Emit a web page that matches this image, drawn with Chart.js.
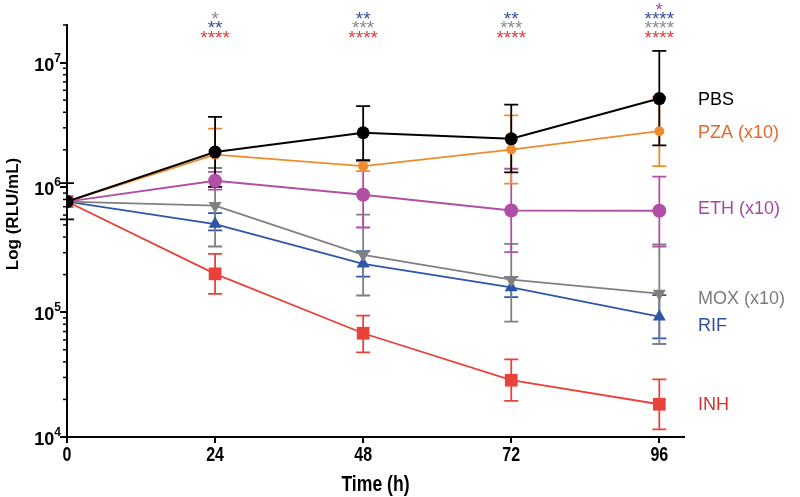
<!DOCTYPE html>
<html>
<head>
<meta charset="utf-8">
<script src="https://cdn.jsdelivr.net/npm/chart.js@4.4.1/dist/chart.umd.min.js"></script>
<style>
  html, body { margin: 0; padding: 0; background: #fff; }
  canvas { display: block; }
</style>
</head>
<body>
<canvas id="rluChart" width="800" height="497"></canvas>
<script>
// time points (h)
const times = [0, 24, 48, 72, 96];

// mean RLU/mL and error bar ends
const pbs   = [7.7e5, 1.92e6, 2.74e6, 2.45e6, 5.15e6];
const pbsHi = [1.08e6, 3.67e6, 4.48e6, 4.61e6, 1.24e7];
const pbsLo = [5.54e5, 1.01e6, 1.65e6, 1.32e6, 2.17e6];

const pza   = [7.7e5, 1.83e6, 1.48e6, 2.01e6, 2.82e6];
const pzaHi = [null, 2.96e6, 1.62e6, 3.77e6, 5.3e6];
const pzaLo = [null, 1.13e6, 1.35e6, 1.07e6, 1.48e6];

const eth   = [7.7e5, 1.13e6, 8.73e5, 6.53e5, 6.5e5];
const ethHi = [null, 1.33e6, 1.64e6, 1.41e6, 1.22e6];
const ethLo = [null, 9.6e5, 4.77e5, 3.03e5, 3.36e5];

const mox   = [7.7e5, 7.13e5, 2.88e5, 1.82e5, 1.41e5];
const moxHi = [null, 1.43e6, 6.04e5, 3.53e5, 3.5e5];
const moxLo = [null, 3.36e5, 1.36e5, 8.4e4, 5.56e4];

const rif   = [7.7e5, 5.08e5, 2.44e5, 1.58e5, 9.2e4];
const rifHi = [null, 6.22e5, 3.08e5, 1.92e5, 1.37e5];
const rifLo = [null, 4.52e5, 1.93e5, 1.32e5, 6.17e4];

const inh   = [7.7e5, 2.03e5, 6.78e4, 2.85e4, 1.83e4];
const inhHi = [null, 2.93e5, 9.37e4, 4.19e4, 2.9e4];
const inhLo = [null, 1.40e5, 4.76e4, 1.95e4, 1.15e4];

const seriesNames = ['PBS', 'PZA (x10)', 'ETH (x10)', 'MOX (x10)', 'RIF', 'INH'];

// y axis labelled decades
const yMajor = [1e4, 1e5, 1e6, 1e7];

// significance stars above each time point (top row first)
const starTimes = [24, 48, 72, 96];
const starRows = [
  [['*', 'gray'], ['**', 'blue'], ['****', 'red']],
  [['**', 'blue'], ['***', 'gray'], ['****', 'red']],
  [['**', 'blue'], ['***', 'gray'], ['****', 'red']],
  [['*', 'purple'], ['****', 'blue'], ['****', 'gray'], ['****', 'red']]
];

const starColors = { red: '#e0393a', blue: '#3b4f9c', gray: '#8a8a8a', purple: '#a64c9c' };

const styles = [
  { color: '#000000', text: '#000000', shape: 'circle', r: 6.5, dy: 1 },
  { color: '#ee8b2c', text: '#e4672e', shape: 'circle', r: 5, dy: 2 },
  { color: '#b14fa5', text: '#a8479b', shape: 'circle', r: 7, dy: -2 },
  { color: '#808080', text: '#7b7b7b', shape: 'triangle', rot: 180, r: 7.5, dy: 5 },
  { color: '#2d56a7', text: '#2f4f9c', shape: 'triangle', r: 7.5, dy: 9 },
  { color: '#e8423b', text: '#d8302e', shape: 'rect', r: 9, dy: 1 }
];

const means = [pbs, pza, eth, mox, rif, inh];
const highs = [pbsHi, pzaHi, ethHi, moxHi, rifHi, inhHi];
const lows  = [pbsLo, pzaLo, ethLo, moxLo, rifLo, inhLo];

const sans = "'Liberation Sans', Arial, sans-serif";

const datasets = means.map((vals, i) => ({
  label: seriesNames[i],
  data: vals.map((v, j) => ({ x: times[j], y: v })),
  borderColor: styles[i].color,
  backgroundColor: styles[i].color,
  borderWidth: i === 0 ? 2 : 1.8,
  pointStyle: styles[i].shape,
  pointRotation: styles[i].rot || 0,
  pointRadius: styles[i].r,
  pointBorderWidth: 0,
  tension: 0
}));

// condensed bold text, like the original's Helvetica Condensed
function narrowText(c, text, x, y, size) {
  c.save();
  c.translate(x, y);
  c.scale(0.8, 1);
  c.font = 'bold ' + size + 'px ' + sans;
  c.textAlign = 'center';
  c.textBaseline = 'middle';
  c.fillText(text, 0, 0);
  c.restore();
}

// error bars, minor ticks, axis labels, stars and series names
const extras = {
  id: 'extras',
  beforeDatasetsDraw(chart) {
    const c = chart.ctx;
    const xs = chart.scales.x, ys = chart.scales.y;
    for (let i = means.length - 1; i >= 0; i--) {
      c.save();
      c.strokeStyle = styles[i].color;
      c.lineWidth = 1.8;
      times.forEach((t, j) => {
        if (highs[i][j] == null) return;
        const x = xs.getPixelForValue(t);
        const yh = ys.getPixelForValue(highs[i][j]);
        const yl = ys.getPixelForValue(lows[i][j]);
        c.beginPath();
        c.moveTo(x, yh); c.lineTo(x, yl);
        c.moveTo(x - 7, yh); c.lineTo(x + 7, yh);
        c.moveTo(x - 7, yl); c.lineTo(x + 7, yl);
        c.stroke();
      });
      c.restore();
    }
  },
  afterDraw(chart) {
    const c = chart.ctx;
    const xs = chart.scales.x, ys = chart.scales.y;
    const area = chart.chartArea;
    c.save();

    // minor ticks on the log axis
    c.strokeStyle = '#000';
    c.lineWidth = 1.5;
    for (let e = 4; e <= 7; e++) {
      for (let m = 2; m <= 9; m++) {
        const v = m * Math.pow(10, e);
        if (v > ys.max) break;
        const y = ys.getPixelForValue(v);
        c.beginPath();
        c.moveTo(area.left - 4, y); c.lineTo(area.left, y);
        c.stroke();
      }
    }

    // decade labels with superscript exponent
    c.fillStyle = '#000';
    c.textBaseline = 'alphabetic';
    yMajor.forEach(v => {
      const y = ys.getPixelForValue(v);
      const exp = String(Math.round(Math.log10(v)));
      c.font = 'bold 12px ' + sans;
      const ew = c.measureText(exp).width;
      c.textAlign = 'right';
      c.fillText(exp, area.left - 6, y - 1);
      c.font = 'bold 18px ' + sans;
      c.fillText('10', area.left - 6 - ew, y + 8);
    });

    // x tick labels and title
    times.forEach(t => narrowText(c, String(t), xs.getPixelForValue(t), area.bottom + 18, 20));
    narrowText(c, 'Time (h)', (area.left + area.right) / 2, area.bottom + 48, 22);

    // y title
    c.save();
    c.translate(area.left - 54, (area.top + area.bottom) / 2 - 17);
    c.rotate(-Math.PI / 2);
    c.textAlign = 'center';
    c.textBaseline = 'middle';
    c.font = 'bold 17px ' + sans;
    c.fillText('Log (RLU/mL)', 0, 0);
    c.restore();

    // stars
    c.textAlign = 'center';
    c.textBaseline = 'alphabetic';
    c.font = '19px ' + sans;
    starTimes.forEach((t, k) => {
      const x = xs.getPixelForValue(t);
      const rows = starRows[k];
      rows.forEach((row, r) => {
        const fromBottom = rows.length - 1 - r;
        const cy = area.top + 7.5 - fromBottom * 9.3;
        c.fillStyle = starColors[row[1]];
        c.fillText(row[0], x, cy + 11);
      });
    });

    // series names at right
    c.textAlign = 'left';
    c.textBaseline = 'middle';
    c.font = '18px ' + sans;
    means.forEach((vals, i) => {
      const y = ys.getPixelForValue(vals[vals.length - 1]) + styles[i].dy;
      c.fillStyle = styles[i].text;
      c.fillText(seriesNames[i], area.right + 14, y);
    });
    c.restore();
  }
};

new Chart(document.getElementById('rluChart').getContext('2d'), {
  type: 'line',
  data: { datasets },
  options: {
    responsive: false,
    animation: false,
    events: [],
    layout: { padding: { top: 25, right: 116, bottom: 0, left: 0 } },
    plugins: { legend: { display: false }, tooltip: { enabled: false } },
    scales: {
      x: {
        type: 'linear',
        min: 0,
        max: 100,
        afterBuildTicks: s => { s.ticks = times.map(v => ({ value: v })); },
        afterFit: s => { s.height = 60; },
        grid: { drawOnChartArea: false, tickLength: 6, color: '#000', lineWidth: 2 },
        border: { color: '#000', width: 2 },
        ticks: { callback: () => '' }
      },
      y: {
        type: 'logarithmic',
        min: 1e4,
        max: 2e7,
        afterBuildTicks: s => { s.ticks = yMajor.map(v => ({ value: v })); },
        afterFit: s => { s.width = 67; },
        grid: { drawOnChartArea: false, tickLength: 7, color: '#000', lineWidth: 2 },
        border: { color: '#000', width: 2 },
        ticks: { callback: () => '' }
      }
    }
  },
  plugins: [extras]
});
</script>
</body>
</html>
